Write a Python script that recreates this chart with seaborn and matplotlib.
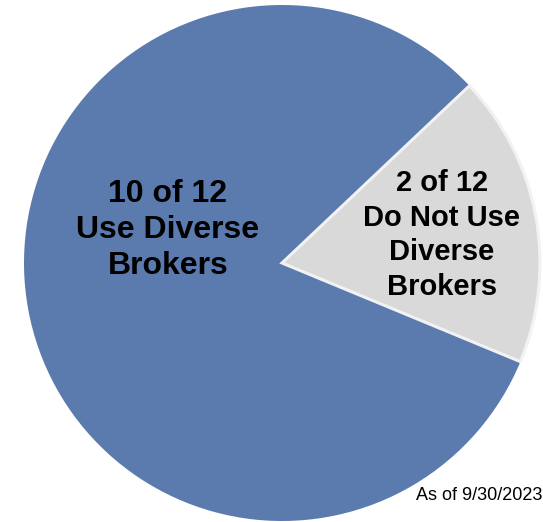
import matplotlib
matplotlib.use("Agg")
import matplotlib.pyplot as plt
import seaborn as sns

# Data
labels = ["10 of 12\nUse Diverse\nBrokers", "2 of 12\nDo Not Use\nDiverse\nBrokers"]
counts = [10, 2]
# slice shares as drawn in the reference picture (percent)
shares = [81.7, 18.3]
colors = ["#5b7bae", "#d9d9d9"]
note = "As of 9/30/2023"

sns.set_theme(style="white")
plt.rcParams["font.family"] = ["Liberation Sans", "DejaVu Sans"]

fig = plt.figure(figsize=(5.43, 5.22), dpi=100)
ax = fig.add_axes([0, 0, 1, 1])

wedges, _ = ax.pie(shares, colors=colors, startangle=43.4, counterclock=True,
                   radius=1.0, wedgeprops=dict(edgecolor="#f2f2f2", linewidth=2.2))
wedges[0].set_edgecolor("none")
wedges[0].set_linewidth(0)
wedges[1].set_zorder(3)

ax.set_aspect("auto")
ax.set_xlim(-282 / 258, (543 - 282) / 258)
ax.set_ylim(-(522 - 263) / 258, 263 / 258)
ax.axis("off")

ax.text(-0.442, 0.128, labels[0], ha="center", va="center", fontsize=23,
        fontweight="bold", color="black", linespacing=1.26, zorder=5)
ax.text(0.62, 0.108, labels[1], ha="center", va="center", fontsize=21,
        fontweight="bold", color="black", linespacing=1.3, zorder=5)

fig.text(1 - 0.5 / 543, 1 - 496 / 522, note, ha="right", va="center", fontsize=13, color="black")

fig.savefig("out.png", dpi=100, facecolor="white")
